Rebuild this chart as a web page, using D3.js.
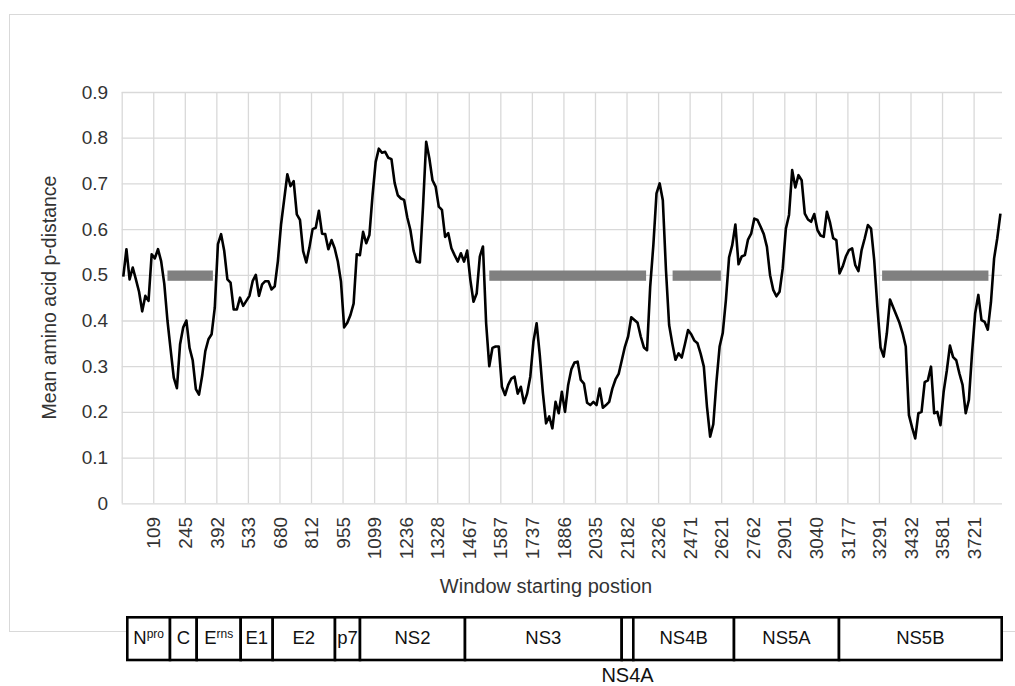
<!DOCTYPE html>
<html>
<head>
<meta charset="utf-8">
<script src="https://cdn.jsdelivr.net/npm/d3@7"></script>
<style>
  body { margin: 0; background: #fff; }
  text { font-family: 'Liberation Sans', Arial, sans-serif; }
</style>
</head>
<body>
<script>
// x tick labels (window starting position), one every 10 windows
const tickLabels = ['109', '245', '392', '533', '680', '812', '955', '1099', '1236', '1328',
  '1467', '1587', '1737', '1886', '2035', '2182', '2326', '2471', '2621', '2762',
  '2901', '3040', '3177', '3291', '3432', '3581', '3721']
const labelEvery = 10

const yTicks = [0, 0.1, 0.2, 0.3, 0.4, 0.5, 0.6, 0.7, 0.8, 0.9]

// mean amino acid p-distance per window
const pDistance = [
  0.496, 0.556, 0.49, 0.516, 0.49, 0.463, 0.42, 0.454, 0.443, 0.545,
  0.536, 0.556, 0.53, 0.48, 0.40, 0.337, 0.275, 0.252, 0.348, 0.385,
  0.40, 0.34, 0.313, 0.25, 0.238, 0.279, 0.333, 0.359, 0.37, 0.428,
  0.567, 0.589, 0.552, 0.49, 0.483, 0.424, 0.424, 0.45, 0.432, 0.443,
  0.454, 0.486, 0.50, 0.454, 0.479, 0.486, 0.486, 0.468, 0.475, 0.53,
  0.61, 0.665, 0.72, 0.694, 0.705, 0.632, 0.62, 0.552, 0.527, 0.56,
  0.60, 0.603, 0.64, 0.59, 0.589, 0.556, 0.576, 0.558, 0.529, 0.485,
  0.385, 0.395, 0.412, 0.437, 0.545, 0.543, 0.594, 0.569, 0.587, 0.674,
  0.747, 0.776, 0.767, 0.769, 0.756, 0.753, 0.701, 0.674, 0.667, 0.664,
  0.626, 0.598, 0.553, 0.529, 0.527, 0.649, 0.791, 0.755, 0.707, 0.693,
  0.649, 0.642, 0.583, 0.591, 0.558, 0.543, 0.529, 0.547, 0.529, 0.553,
  0.489, 0.441, 0.459, 0.54, 0.562, 0.394, 0.30, 0.34, 0.343, 0.343,
  0.255, 0.237, 0.259, 0.273, 0.277, 0.24, 0.255, 0.219, 0.24, 0.277,
  0.354, 0.394, 0.325, 0.241, 0.175, 0.19, 0.164, 0.222, 0.197, 0.244,
  0.20, 0.259, 0.293, 0.308, 0.31, 0.27, 0.262, 0.22, 0.215, 0.222,
  0.215, 0.251, 0.209, 0.215, 0.222, 0.251, 0.271, 0.283, 0.313, 0.343,
  0.365, 0.407, 0.401, 0.395, 0.365, 0.341, 0.335, 0.474, 0.565, 0.678,
  0.70, 0.663, 0.51, 0.39, 0.35, 0.314, 0.328, 0.319, 0.348, 0.379,
  0.37, 0.356, 0.35, 0.327, 0.299, 0.211, 0.146, 0.173, 0.266, 0.343,
  0.373, 0.445, 0.538, 0.565, 0.61, 0.523, 0.54, 0.543, 0.577, 0.59,
  0.623, 0.62, 0.605, 0.589, 0.561, 0.499, 0.467, 0.453, 0.463, 0.514,
  0.601, 0.631, 0.729, 0.691, 0.718, 0.707, 0.634, 0.621, 0.616, 0.633,
  0.598, 0.586, 0.583, 0.638, 0.614, 0.58, 0.576, 0.503, 0.518, 0.54,
  0.554, 0.558, 0.521, 0.508, 0.554, 0.58, 0.609, 0.601, 0.532, 0.43,
  0.341, 0.321, 0.372, 0.446, 0.429, 0.412, 0.395, 0.372, 0.343, 0.193,
  0.166, 0.142, 0.197, 0.20, 0.265, 0.269, 0.299, 0.197, 0.20, 0.171,
  0.244, 0.29, 0.345, 0.32, 0.313, 0.284, 0.259, 0.197, 0.226, 0.328,
  0.416, 0.456, 0.401, 0.397, 0.38, 0.44, 0.536, 0.58, 0.634
]

// grey blocks (start / end window index), drawn at p = 0.5
const blockStarts = [14.5, 116.5, 174.6, 241.0]
const blockEnds = [28.9, 166.2, 189.9, 274.7]
const blockLevel = 0.5

// genome map: names ('^' marks a superscript) and relative lengths
const geneNames = ['N^pro', 'C', 'E^rns', 'E1', 'E2', 'p7', 'NS2', 'NS3', 'NS4A', 'NS4B', 'NS5A', 'NS5B']
const geneLengths = [42.7, 26.7, 44, 32, 62.3, 25, 105, 156.7, 11.6, 100.7, 105, 162.7]

const yAxisTitle = 'Mean amino acid p-distance'
const xAxisTitle = 'Window starting postion'

const width = 1015
const height = 686
const plot = { left: 121.7, right: 1002, top: 92, bottom: 503.3 }
const gridColor = '#d9d9d9'
const textColor = '#333'

const svg = d3.select('body')
  .append('svg')
  .attr('width', width)
  .attr('height', height)

// chart frame
svg.append('rect')
  .attr('x', 9.5)
  .attr('y', 14.5)
  .attr('width', 1020)
  .attr('height', 617)
  .attr('fill', 'none')
  .attr('stroke', gridColor)

const xScale = d3.scaleLinear()
  .domain([0, pDistance.length])
  .range([plot.left, plot.right])

const yScale = d3.scaleLinear()
  .domain([0, 0.9])
  .range([plot.bottom, plot.top])

const gridIdx = d3.range(0, tickLabels.length + 1).map(j => j * labelEvery)

// y axis + horizontal grid
const yAxis = d3.axisLeft(yScale)
  .tickValues(yTicks)
  .tickSize(-(plot.right - plot.left))
  .tickPadding(13.5)
  .tickFormat(d => String(d))

svg.append('g')
  .attr('transform', `translate(${plot.left}, 0)`)
  .call(yAxis)
  .call(g => g.select('.domain').remove())
  .call(g => g.selectAll('line').attr('stroke', gridColor).attr('stroke-width', 1.3))
  .call(g => g.selectAll('text')
    .attr('fill', textColor)
    .style('font-size', '19px'))

// x axis + vertical grid
const xAxis = d3.axisBottom(xScale)
  .tickValues(gridIdx)
  .tickSize(-(plot.bottom - plot.top))
  .tickFormat((d, i) => i === 0 ? '' : tickLabels[i - 1])

svg.append('g')
  .attr('transform', `translate(0, ${plot.bottom})`)
  .call(xAxis)
  .call(g => g.select('.domain').remove())
  .call(g => g.selectAll('line').attr('stroke', gridColor).attr('stroke-width', 1.3))
  .call(g => g.selectAll('text')
    .attr('fill', textColor)
    .style('font-size', '19px')
    .attr('text-anchor', 'end')
    .attr('transform', 'rotate(-90)')
    .attr('x', -13.7)
    .attr('y', 0)
    .attr('dy', '0.35em'))

// grey blocks
svg.append('g')
  .selectAll('rect')
  .data(blockStarts)
  .enter()
  .append('rect')
  .attr('x', d => xScale(d))
  .attr('width', (d, i) => xScale(blockEnds[i]) - xScale(d))
  .attr('y', yScale(blockLevel) - 4.3)
  .attr('height', 10.3)
  .attr('fill', '#808080')

// p-distance line
const line = d3.line()
  .x((d, i) => xScale(i + 0.5))
  .y(d => yScale(d))

svg.append('path')
  .datum(pDistance)
  .attr('d', line)
  .attr('fill', 'none')
  .attr('stroke', '#000')
  .attr('stroke-width', 2.6)
  .attr('stroke-linejoin', 'round')

// axis titles
svg.append('text')
  .text(yAxisTitle)
  .attr('transform', `translate(55.5, ${297.5}) rotate(-90)`)
  .attr('text-anchor', 'middle')
  .attr('fill', textColor)
  .style('font-size', '19.5px')

svg.append('text')
  .text(xAxisTitle)
  .attr('x', 546)
  .attr('y', 593)
  .attr('text-anchor', 'middle')
  .attr('fill', textColor)
  .style('font-size', '20px')

// genome map
const geneStarts = [0, ...d3.cumsum(geneLengths)]
const gScale = d3.scaleLinear()
  .domain([0, d3.sum(geneLengths)])
  .range([127.3, 1001.7])
const mapTop = 617.3
const mapBottom = 660

const genes = svg.append('g')

genes.selectAll('rect')
  .data(geneLengths)
  .enter()
  .append('rect')
  .attr('x', (d, i) => gScale(geneStarts[i]))
  .attr('width', (d, i) => gScale(geneStarts[i + 1]) - gScale(geneStarts[i]))
  .attr('y', mapTop)
  .attr('height', mapBottom - mapTop)
  .attr('fill', '#fff')
  .attr('stroke', '#000')
  .attr('stroke-width', 2.6)

const labels = genes.selectAll('text')
  .data(geneNames)
  .enter()
  .append('text')
  .attr('x', (d, i) => gScale(geneStarts[i] + geneLengths[i] / 2))
  .attr('y', (d, i) => geneLengths[i] < 20 ? 682 : 643.5)
  .attr('text-anchor', 'middle')
  .attr('fill', '#111')
  .style('font-size', (d, i) => geneLengths[i] < 20 ? '20px' : '18.5px')

labels.each(function (d) {
  const [main, sup] = d.split('^')
  const t = d3.select(this)
  t.append('tspan').text(main)
  if (sup) {
    t.append('tspan')
      .text(sup)
      .attr('dy', -6)
      .style('font-size', '12px')
  }
})
</script>
</body>
</html>
